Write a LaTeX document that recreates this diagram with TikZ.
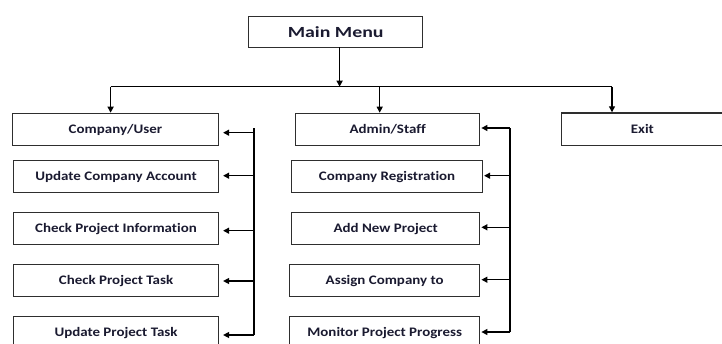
\documentclass[tikz,border=0pt]{standalone}
\usepackage{fontspec}
\setmainfont{Carlito}[FakeStretch=1.15,Ligatures=NoCommon]
\newfontfamily\menufont{Carlito}[FakeStretch=1.28,Ligatures=NoCommon]
\usetikzlibrary{arrows.meta}
\definecolor{boxline}{HTML}{2E2E2E}
\definecolor{txt}{HTML}{1A1A30}
\tikzset{
  menubox/.style={draw=boxline, line width=1.4pt, rectangle, inner sep=0pt, anchor=north west,
    text=txt, font=\fontsize{13}{15}\selectfont\bfseries},
  topbox/.style={menubox, font=\menufont\fontsize{15.5}{18}\selectfont\bfseries},
  link/.style={draw=black, line width=1.3pt},
  arr/.style={link, -{Triangle[length=6pt,width=6pt]}}
}
\begin{document}
\begin{tikzpicture}[x=1pt,y=-1pt]
\useasboundingbox (0,0) rectangle (722,343);
\clip (0,0) rectangle (722,343);
% top
\node[topbox, minimum width=174pt, minimum height=31pt] (mm) at (248,16) {Main Menu};
% left column
\node[menubox, minimum width=206pt, minimum height=32.3pt] (cu) at (11.7,112.7) {Company/User};
\node[menubox, minimum width=204.7pt, minimum height=32pt] (uca) at (13,160) {Update Company Account};
\node[menubox, minimum width=204.7pt, minimum height=32pt] (cpi) at (13,212) {Check Project Information};
\node[menubox, minimum width=204.7pt, minimum height=32pt] (cpt) at (13,264) {Check Project Task};
\node[menubox, minimum width=204.7pt, minimum height=32pt] (upt) at (13,316) {Update Project Task};
% middle column
\node[menubox, minimum width=184pt, minimum height=32.3pt] (as) at (295,112.7) {Admin/Staff};
\node[menubox, minimum width=190.7pt, minimum height=32pt] (cr) at (291,160) {Company Registration};
\node[menubox, minimum width=188pt, minimum height=32pt] (anp) at (291,212) {Add New Project};
\node[menubox, minimum width=190pt, minimum height=32pt] (act) at (289,264) {Assign Company to};
\node[menubox, minimum width=190pt, minimum height=32pt] (mpp) at (289,316) {Monitor Project Progress};
% exit
\node[menubox, minimum width=166pt, minimum height=32.7pt] (ex) at (560.7,112.3) {\hspace*{-4pt}Exit};
% top connectors
\coordinate (mmo) at (339.6,47);
\coordinate (bl) at (110.6,86.7);
\coordinate (bm) at (379.7,86.7);
\coordinate (br) at (612,86.7);
\draw[arr] (mmo) -- (mmo |- bl);
\draw[link] (bl) -- (br);
\draw[arr] (bl) -- (bl |- cu.north);
\draw[arr] (bm) -- (bm |- as.north);
\draw[arr] (br) -- (br |- ex.north);
% left bus
\coordinate (lt) at (254,128);
\coordinate (l1) at (254,132.7);
\coordinate (l2) at (254,175.7);
\coordinate (l3) at (254,230.7);
\coordinate (l4) at (254,281);
\coordinate (l5) at (254,335);
\draw[link] (lt) -- (l5);
\draw[arr, shorten >=4pt] (l1) -- (l1 -| cu.east);
\draw[arr, shorten >=4pt] (l2) -- (l2 -| uca.east);
\draw[arr, shorten >=4pt] (l3) -- (l3 -| cpi.east);
\draw[arr, shorten >=4pt] (l4) -- (l4 -| cpt.east);
\draw[arr, shorten >=4pt] (l5) -- (l5 -| upt.east);
% middle bus
\coordinate (m1) at (510,128);
\coordinate (m2) at (510,175.7);
\coordinate (m3) at (510,227.3);
\coordinate (m4) at (510,279.7);
\coordinate (m5) at (510,332);
\draw[link] (m1) -- (m5);
\draw[arr, shorten >=1pt] (m1) -- (m1 -| as.east);
\draw[arr, shorten >=1pt] (m2) -- (m2 -| cr.east);
\draw[arr, shorten >=1pt] (m3) -- (m3 -| anp.east);
\draw[arr, shorten >=1pt] (m4) -- (m4 -| act.east);
\draw[arr, shorten >=1pt] (m5) -- (m5 -| mpp.east);
\end{tikzpicture}
\end{document}
